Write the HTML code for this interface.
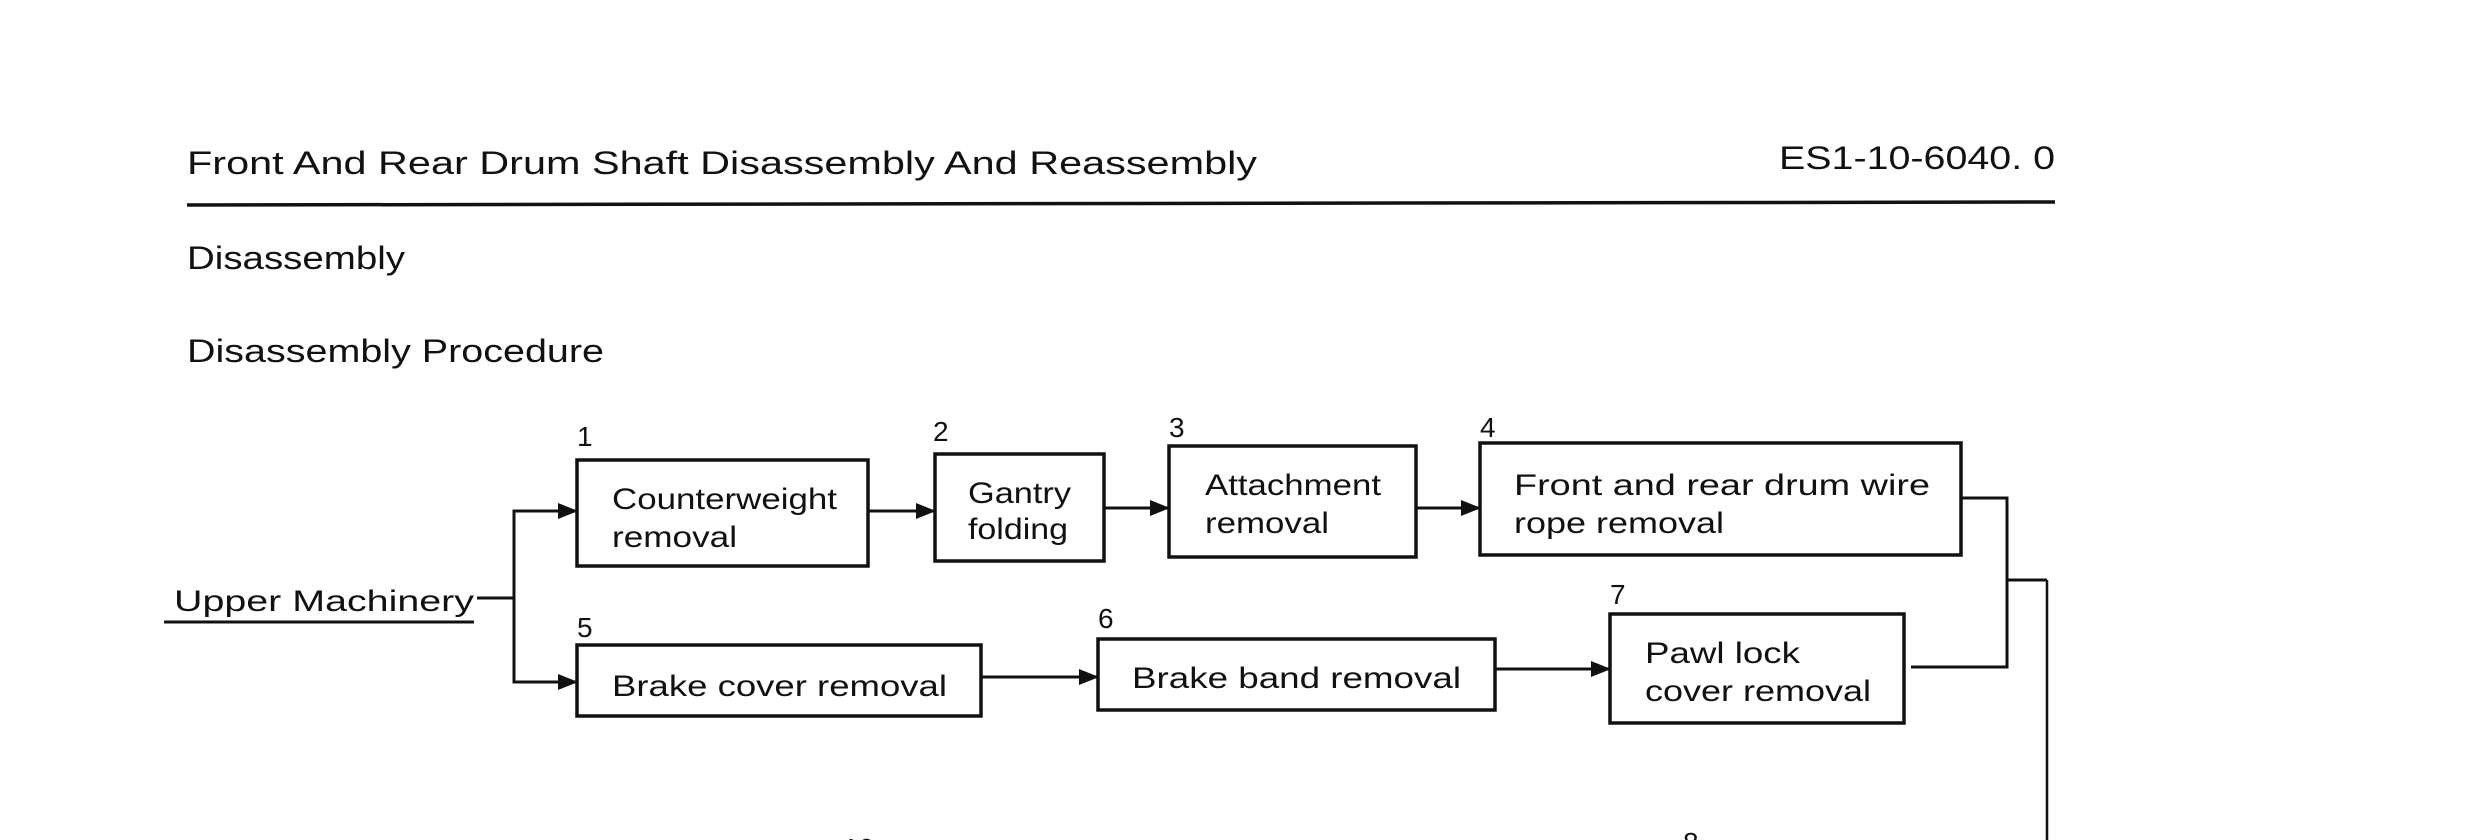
<!DOCTYPE html>
<html><head><meta charset="utf-8"><style>
html,body{margin:0;padding:0;background:#fff;}
svg{display:block;}
text{font-family:"Liberation Sans",sans-serif;fill:#111;}
</style></head><body>
<svg width="2480" height="840" viewBox="0 0 2480 840" xmlns="http://www.w3.org/2000/svg">
<defs>
<marker id="a" markerWidth="20" markerHeight="16" refX="19" refY="8" orient="auto" markerUnits="userSpaceOnUse">
<path d="M0,0 L20,8 L0,16 Z" fill="#111"/>
</marker>
</defs>
<g font-size="32">
<text x="187" y="174" textLength="1070" lengthAdjust="spacingAndGlyphs">Front And Rear Drum Shaft Disassembly And Reassembly</text>
<text x="1779" y="169" textLength="276" lengthAdjust="spacingAndGlyphs">ES1-10-6040. 0</text>
<text x="187" y="269" textLength="218" lengthAdjust="spacingAndGlyphs">Disassembly</text>
<text x="187" y="362" textLength="417" lengthAdjust="spacingAndGlyphs">Disassembly Procedure</text>
</g>
<line x1="187" y1="205" x2="2055" y2="202" stroke="#111" stroke-width="3.5"/>

<g fill="none" stroke="#111" stroke-width="3.5">
<rect x="577" y="460" width="291" height="106"/>
<rect x="935" y="454" width="169" height="107"/>
<rect x="1169" y="446" width="247" height="111"/>
<rect x="1480" y="443" width="481" height="112"/>
<rect x="577" y="645" width="404" height="71"/>
<rect x="1098" y="639" width="397" height="71"/>
<rect x="1610" y="614" width="294" height="109"/>
</g>

<g stroke="#111" stroke-width="3" fill="none">
<line x1="164" y1="622" x2="474" y2="622"/>
<line x1="477" y1="598" x2="514" y2="598"/>
<polyline points="577,511 514,511 514,682 577,682" marker-start="" />
<line x1="514" y1="511" x2="577" y2="511" marker-end="url(#a)"/>
<line x1="514" y1="682" x2="577" y2="682" marker-end="url(#a)"/>
<line x1="868" y1="511" x2="935" y2="511" marker-end="url(#a)"/>
<line x1="1104" y1="508" x2="1169" y2="508" marker-end="url(#a)"/>
<line x1="1416" y1="508" x2="1480" y2="508" marker-end="url(#a)"/>
<line x1="981" y1="677" x2="1098" y2="677" marker-end="url(#a)"/>
<line x1="1495" y1="669" x2="1610" y2="669" marker-end="url(#a)"/>
<polyline points="1961,498 2007,498 2007,667 1911,667"/>
<line x1="2007" y1="580" x2="2047" y2="580"/>
<line x1="2047" y1="580" x2="2047" y2="840" stroke-width="2.5"/>
</g>

<g font-size="28">
<text x="577" y="446">1</text>
<text x="933" y="441">2</text>
<text x="1169" y="437">3</text>
<text x="1480" y="437">4</text>
<text x="577" y="637">5</text>
<text x="1098" y="628">6</text>
<text x="1610" y="604">7</text>
<text x="843" y="858">10</text>
<text x="1683" y="852">8</text>
</g>

<g font-size="30">
<text x="174" y="611" textLength="300" lengthAdjust="spacingAndGlyphs">Upper Machinery</text>
<text x="612" y="509" textLength="225" lengthAdjust="spacingAndGlyphs">Counterweight</text>
<text x="612" y="547" textLength="125" lengthAdjust="spacingAndGlyphs">removal</text>
<text x="968" y="503" textLength="103" lengthAdjust="spacingAndGlyphs">Gantry</text>
<text x="968" y="539" textLength="100" lengthAdjust="spacingAndGlyphs">folding</text>
<text x="1205" y="495" textLength="176" lengthAdjust="spacingAndGlyphs">Attachment</text>
<text x="1205" y="533" textLength="124" lengthAdjust="spacingAndGlyphs">removal</text>
<text x="1514" y="495" textLength="416" lengthAdjust="spacingAndGlyphs">Front and rear drum wire</text>
<text x="1514" y="533" textLength="210" lengthAdjust="spacingAndGlyphs">rope removal</text>
<text x="612" y="696" textLength="335" lengthAdjust="spacingAndGlyphs">Brake cover removal</text>
<text x="1132" y="688" textLength="329" lengthAdjust="spacingAndGlyphs">Brake band removal</text>
<text x="1645" y="663" textLength="155" lengthAdjust="spacingAndGlyphs">Pawl lock</text>
<text x="1645" y="701" textLength="226" lengthAdjust="spacingAndGlyphs">cover removal</text>
</g>
</svg>
</body></html>
